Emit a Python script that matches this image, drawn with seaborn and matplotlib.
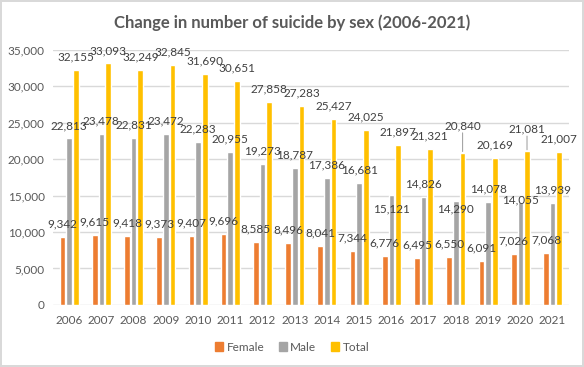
import pandas as pd
import numpy as np
import matplotlib
matplotlib.use("Agg")
import matplotlib.pyplot as plt
import seaborn as sns

years = [str(y) for y in range(2006, 2022)]
female = [9342, 9615, 9418, 9373, 9407, 9696, 8585, 8496, 8041, 7344, 6776, 6495, 6550, 6091, 7026, 7068]
male = [22813, 23478, 22831, 23472, 22283, 20955, 19273, 18787, 17386, 16681, 15121, 14826, 14290, 14078, 14055, 13939]
total = [32155, 33093, 32249, 32845, 31690, 30651, 27858, 27283, 25427, 24025, 21897, 21321, 20840, 20169, 21081, 21007]
series = ["Female", "Male", "Total"]
colors = ["#ED7D31", "#A5A5A5", "#FFC000"]

df = pd.DataFrame({"Year": years * 3,
                   "Sex": np.repeat(series, len(years)),
                   "Count": female + male + total})

sns.set_style("white")
plt.rcParams["font.family"] = ["Lato", "DejaVu Sans"]

fig = plt.figure(figsize=(5.84, 3.67), dpi=100)
fig.patch.set_edgecolor("#D9D9D9")
fig.patch.set_linewidth(1.5)
ax = fig.add_axes([0.0908, 0.169, 0.883, 0.696])

sns.barplot(data=df, x="Year", y="Count", hue="Sex", hue_order=series,
            palette=colors, width=0.62, gap=0.15, saturation=1,
            errorbar=None, ax=ax)

ax.set_ylim(0, 35000)
ax.set_yticks(range(0, 35001, 5000))
ax.yaxis.set_major_formatter(matplotlib.ticker.FuncFormatter(lambda v, p: f"{int(v):,}"))
ax.grid(axis="y", color="#D9D9D9", linewidth=1)
ax.set_axisbelow(True)
for s in ax.spines.values():
    s.set_visible(False)
ax.tick_params(length=0, labelsize=8.5, labelcolor="#595959")
ax.tick_params(axis="y", pad=6)
ax.tick_params(axis="x", pad=7)
ax.set_xlabel("")
ax.set_ylabel("")

# manual label moves (pixels), like the hand-placed Excel labels
nudge = {("Male", 10): -27, ("Male", 12): -21, ("Male", 14): -11,
         ("Total", 12): 14, ("Total", 14): 9}
for name, cont in zip(series, ax.containers):
    for i, bar in enumerate(cont):
        x = bar.get_x() + bar.get_width() / 2
        h = bar.get_height()
        dy = 13 + nudge.get((name, i), 0)
        ax.annotate(f"{int(h):,}", (x, h), xytext=(0, dy), textcoords="offset pixels",
                    ha="center", va="center", fontsize=8.5, color="#404040")
        if name == "Total" and (name, i) in nudge:
            ax.annotate("", (x, h), xytext=(0, dy - 7), textcoords="offset pixels",
                        arrowprops=dict(arrowstyle="-", color="#A6A6A6", lw=0.8,
                                        shrinkA=0, shrinkB=1))

ax.legend_.remove()
handles = [plt.Rectangle((0, 0), 1, 1, color=c) for c in colors]
fig.legend(handles, series, loc="center", bbox_to_anchor=(0.5, 0.054), ncol=3,
           frameon=False, fontsize=8.5, handlelength=0.7, handleheight=0.7,
           handletextpad=0.3, columnspacing=1.2, labelcolor="#595959")

fig.suptitle("Change in number of suicide by sex (2006-2021)", y=0.962,
             fontsize=12, fontweight="bold", color="#595959")

fig.savefig("out.png", dpi=100, edgecolor=fig.get_edgecolor())
